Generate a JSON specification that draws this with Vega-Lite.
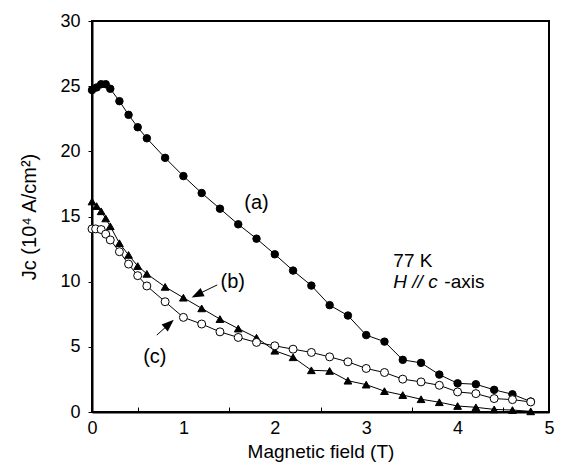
{
  "$schema": "https://vega.github.io/schema/vega-lite/v6.json",
  "autosize": "none",
  "width": 457,
  "height": 391,
  "padding": {"left": 92, "top": 21, "right": 21, "bottom": 56},
  "background": "white",
  "config": {
    "font": "Liberation Sans",
    "view": {"stroke": "black", "strokeWidth": 2},
    "axis": {"grid": false, "domainColor": "black", "domainWidth": 2, "tickColor": "black", "labelColor": "black", "titleColor": "black", "labelFontSize": 18, "titleFontSize": 19, "titleFontWeight": "normal", "labelFont": "Liberation Sans", "titleFont": "Liberation Sans"}
  },
  "datasets": {
    "jc": [
      {"field": 0.0, "jc": 24.7, "sample": "a"},
      {"field": 0.05, "jc": 24.9, "sample": "a"},
      {"field": 0.1, "jc": 25.15, "sample": "a"},
      {"field": 0.15, "jc": 25.15, "sample": "a"},
      {"field": 0.2, "jc": 24.8, "sample": "a"},
      {"field": 0.3, "jc": 23.85, "sample": "a"},
      {"field": 0.4, "jc": 22.8, "sample": "a"},
      {"field": 0.5, "jc": 21.85, "sample": "a"},
      {"field": 0.6, "jc": 21.0, "sample": "a"},
      {"field": 0.8, "jc": 19.5, "sample": "a"},
      {"field": 1.0, "jc": 18.1, "sample": "a"},
      {"field": 1.2, "jc": 16.8, "sample": "a"},
      {"field": 1.4, "jc": 15.6, "sample": "a"},
      {"field": 1.6, "jc": 14.4, "sample": "a"},
      {"field": 1.8, "jc": 13.3, "sample": "a"},
      {"field": 2.0, "jc": 12.1, "sample": "a"},
      {"field": 2.2, "jc": 10.85, "sample": "a"},
      {"field": 2.4, "jc": 9.7, "sample": "a"},
      {"field": 2.6, "jc": 8.2, "sample": "a"},
      {"field": 2.8, "jc": 7.4, "sample": "a"},
      {"field": 3.0, "jc": 5.9, "sample": "a"},
      {"field": 3.2, "jc": 5.4, "sample": "a"},
      {"field": 3.4, "jc": 4.0, "sample": "a"},
      {"field": 3.6, "jc": 3.77, "sample": "a"},
      {"field": 3.8, "jc": 2.87, "sample": "a"},
      {"field": 4.0, "jc": 2.2, "sample": "a"},
      {"field": 4.2, "jc": 2.13, "sample": "a"},
      {"field": 4.4, "jc": 1.7, "sample": "a"},
      {"field": 4.6, "jc": 1.36, "sample": "a"},
      {"field": 4.8, "jc": 0.8, "sample": "a"},
      {"field": 0.0, "jc": 16.15, "sample": "b"},
      {"field": 0.05, "jc": 15.8, "sample": "b"},
      {"field": 0.1, "jc": 15.4, "sample": "b"},
      {"field": 0.15, "jc": 14.85, "sample": "b"},
      {"field": 0.2, "jc": 14.25, "sample": "b"},
      {"field": 0.3, "jc": 12.95, "sample": "b"},
      {"field": 0.4, "jc": 12.05, "sample": "b"},
      {"field": 0.5, "jc": 11.2, "sample": "b"},
      {"field": 0.6, "jc": 10.6, "sample": "b"},
      {"field": 0.8, "jc": 9.6, "sample": "b"},
      {"field": 1.0, "jc": 8.77, "sample": "b"},
      {"field": 1.2, "jc": 7.95, "sample": "b"},
      {"field": 1.4, "jc": 7.13, "sample": "b"},
      {"field": 1.6, "jc": 6.4, "sample": "b"},
      {"field": 1.8, "jc": 5.7, "sample": "b"},
      {"field": 2.0, "jc": 4.7, "sample": "b"},
      {"field": 2.2, "jc": 4.2, "sample": "b"},
      {"field": 2.4, "jc": 3.2, "sample": "b"},
      {"field": 2.6, "jc": 3.15, "sample": "b"},
      {"field": 2.8, "jc": 2.4, "sample": "b"},
      {"field": 3.0, "jc": 2.1, "sample": "b"},
      {"field": 3.2, "jc": 1.6, "sample": "b"},
      {"field": 3.4, "jc": 1.3, "sample": "b"},
      {"field": 3.6, "jc": 0.98, "sample": "b"},
      {"field": 3.8, "jc": 0.75, "sample": "b"},
      {"field": 4.0, "jc": 0.46, "sample": "b"},
      {"field": 4.2, "jc": 0.36, "sample": "b"},
      {"field": 4.4, "jc": 0.2, "sample": "b"},
      {"field": 4.6, "jc": 0.15, "sample": "b"},
      {"field": 4.8, "jc": 0.05, "sample": "b"},
      {"field": 0.0, "jc": 14.05, "sample": "c"},
      {"field": 0.04, "jc": 14.05, "sample": "c"},
      {"field": 0.1, "jc": 14.0, "sample": "c"},
      {"field": 0.15, "jc": 13.65, "sample": "c"},
      {"field": 0.2, "jc": 13.2, "sample": "c"},
      {"field": 0.3, "jc": 12.3, "sample": "c"},
      {"field": 0.4, "jc": 11.35, "sample": "c"},
      {"field": 0.5, "jc": 10.46, "sample": "c"},
      {"field": 0.6, "jc": 9.67, "sample": "c"},
      {"field": 0.8, "jc": 8.46, "sample": "c"},
      {"field": 1.0, "jc": 7.26, "sample": "c"},
      {"field": 1.2, "jc": 6.75, "sample": "c"},
      {"field": 1.4, "jc": 6.15, "sample": "c"},
      {"field": 1.6, "jc": 5.72, "sample": "c"},
      {"field": 1.8, "jc": 5.34, "sample": "c"},
      {"field": 2.0, "jc": 5.08, "sample": "c"},
      {"field": 2.2, "jc": 4.82, "sample": "c"},
      {"field": 2.4, "jc": 4.57, "sample": "c"},
      {"field": 2.6, "jc": 4.23, "sample": "c"},
      {"field": 2.8, "jc": 3.85, "sample": "c"},
      {"field": 3.0, "jc": 3.34, "sample": "c"},
      {"field": 3.2, "jc": 3.03, "sample": "c"},
      {"field": 3.4, "jc": 2.52, "sample": "c"},
      {"field": 3.6, "jc": 2.31, "sample": "c"},
      {"field": 3.8, "jc": 2.05, "sample": "c"},
      {"field": 4.0, "jc": 1.54, "sample": "c"},
      {"field": 4.2, "jc": 1.41, "sample": "c"},
      {"field": 4.4, "jc": 1.03, "sample": "c"},
      {"field": 4.6, "jc": 0.95, "sample": "c"},
      {"field": 4.8, "jc": 0.77, "sample": "c"}
    ],
    "arrows": [
      {"arrow": "b", "field": 1.37, "jc": 9.75},
      {"arrow": "b", "field": 1.15, "jc": 9.0},
      {"arrow": "c", "field": 0.709, "jc": 5.9},
      {"arrow": "c", "field": 0.845, "jc": 6.76}
    ],
    "heads": [
      {"arrow": "b", "field": 1.15, "jc": 9.0},
      {"arrow": "c", "field": 0.845, "jc": 6.76}
    ],
    "labels": [
      {"field": 1.8, "jc": 16.0, "label": "(a)"},
      {"field": 1.54, "jc": 10.0, "label": "(b)"},
      {"field": 0.687, "jc": 4.25, "label": "(c)"}
    ]
  },
  "layer": [
    {
      "data": {"name": "jc"},
      "mark": {"type": "line", "color": "black", "strokeWidth": 1},
      "encoding": {
        "x": {"field": "field", "type": "quantitative", "scale": {"domain": [0, 5], "nice": false}, "title": "Magnetic field (T)",
          "axis": {"values": [0, 0.5, 1, 1.5, 2, 2.5, 3, 3.5, 4, 4.5, 5], "labelExpr": "datum.value % 1 === 0 ? format(datum.value, 'd') : ''", "tickSize": -5, "tickOpacity": {"condition": {"test": "datum.value % 1 === 0", "value": 0}, "value": 1}, "labelPadding": 12, "titlePadding": 5, "labelFlush": false}},
        "y": {"field": "jc", "type": "quantitative", "scale": {"domain": [0, 30], "nice": false}, "title": "Jc (10⁴ A/cm²)",
          "axis": {"values": [0, 5, 10, 15, 20, 25, 30], "tickSize": 4, "labelPadding": 8, "titlePadding": 20, "titleFontSize": 20}},
        "detail": {"field": "sample"},
        "order": {"field": "field"}
      }
    },
    {
      "data": {"name": "jc"},
      "mark": {"type": "point", "opacity": 1, "strokeWidth": 1, "stroke": "black", "filled": false},
      "encoding": {
        "x": {"field": "field", "type": "quantitative"},
        "y": {"field": "jc", "type": "quantitative"},
        "shape": {"field": "sample", "type": "nominal", "scale": {"domain": ["a", "b", "c"], "range": ["circle", "triangle-up", "circle"]}, "legend": null},
        "fill": {"field": "sample", "type": "nominal", "scale": {"domain": ["a", "b", "c"], "range": ["black", "black", "white"]}, "legend": null},
        "size": {"field": "sample", "type": "nominal", "scale": {"domain": ["a", "b", "c"], "range": [56, 64, 46]}, "legend": null}
      }
    },
    {
      "data": {"name": "arrows"},
      "mark": {"type": "line", "color": "black", "strokeWidth": 1},
      "encoding": {
        "x": {"field": "field", "type": "quantitative"},
        "y": {"field": "jc", "type": "quantitative"},
        "detail": {"field": "arrow"}
      }
    },
    {
      "data": {"name": "heads"},
      "transform": [{"filter": "datum.arrow === 'b'"}],
      "mark": {"type": "point", "shape": "M0,-1L0.75,1L-0.75,1Z", "filled": true, "color": "black", "opacity": 1, "size": 150, "angle": 244},
      "encoding": {
        "x": {"field": "field", "type": "quantitative"},
        "y": {"field": "jc", "type": "quantitative"}
      }
    },
    {
      "data": {"name": "heads"},
      "transform": [{"filter": "datum.arrow === 'c'"}],
      "mark": {"type": "point", "shape": "M0,-1L0.75,1L-0.75,1Z", "filled": true, "color": "black", "opacity": 1, "size": 150, "angle": 48},
      "encoding": {
        "x": {"field": "field", "type": "quantitative"},
        "y": {"field": "jc", "type": "quantitative"}
      }
    },
    {
      "data": {"name": "labels"},
      "mark": {"type": "text", "fontSize": 20, "font": "Liberation Sans", "color": "black"},
      "encoding": {
        "x": {"field": "field", "type": "quantitative"},
        "y": {"field": "jc", "type": "quantitative"},
        "text": {"field": "label"}
      }
    },
    {
      "data": {"values": [{"field": 3.297, "jc": 11.6, "label": "77 K"}]},
      "mark": {"type": "text", "fontSize": 19, "font": "Liberation Sans", "color": "black", "align": "left"},
      "encoding": {
        "x": {"field": "field", "type": "quantitative"},
        "y": {"field": "jc", "type": "quantitative"},
        "text": {"field": "label"}
      }
    },
    {
      "data": {"values": [{"field": 3.297, "jc": 10.0, "label": "H // c"}]},
      "mark": {"type": "text", "fontSize": 19, "font": "Liberation Sans", "fontStyle": "italic", "color": "black", "align": "left"},
      "encoding": {
        "x": {"field": "field", "type": "quantitative"},
        "y": {"field": "jc", "type": "quantitative"},
        "text": {"field": "label"}
      }
    },
    {
      "data": {"values": [{"field": 3.297, "jc": 10.0, "label": "-axis"}]},
      "mark": {"type": "text", "fontSize": 19, "font": "Liberation Sans", "color": "black", "align": "left", "dx": 51},
      "encoding": {
        "x": {"field": "field", "type": "quantitative"},
        "y": {"field": "jc", "type": "quantitative"},
        "text": {"field": "label"}
      }
    }
  ]
}
